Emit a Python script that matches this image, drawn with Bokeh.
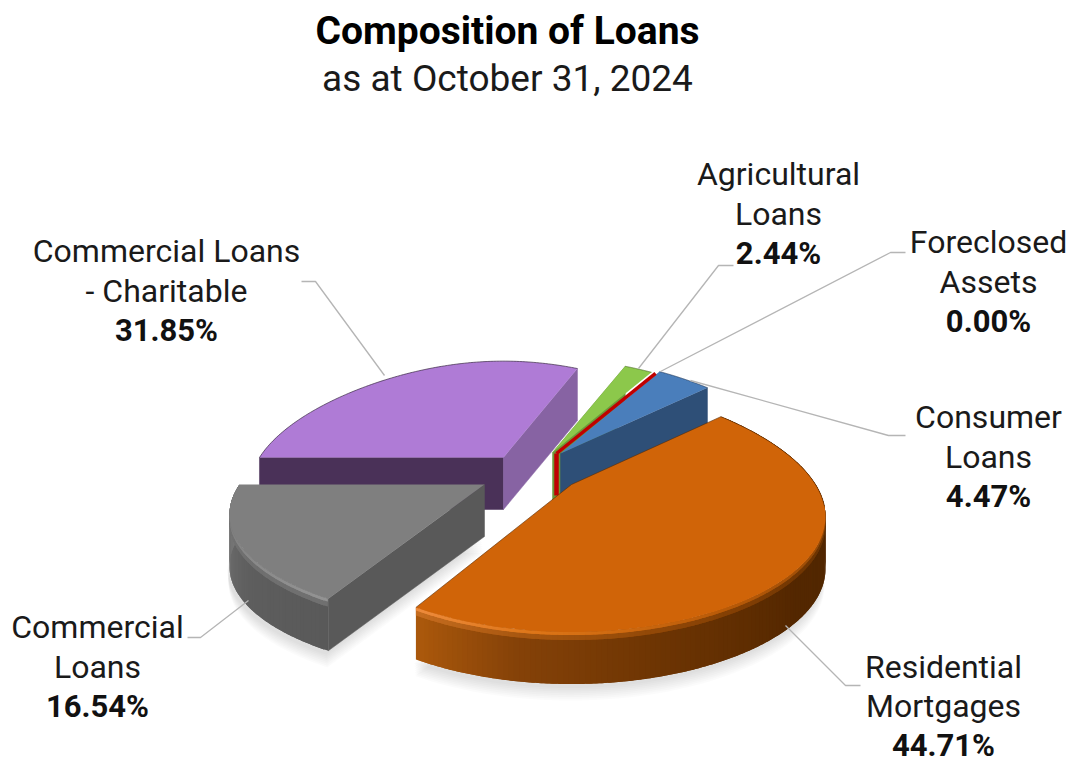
import numpy as np
from bokeh.core.properties import value
from bokeh.embed import file_html
from bokeh.models import Range1d
from bokeh.plotting import figure
from bokeh.resources import INLINE

# Portfolio shares, clockwise from the first slice angle
categories = ["Residential Mortgages", "Commercial Loans", "Commercial Loans - Charitable",
              "Agricultural Loans", "Foreclosed Assets", "Consumer Loans"]
shares = [44.71, 16.54, 31.85, 2.44, 0.00, 4.47]
share_labels = ["44.71%", "16.54%", "31.85%", "2.44%", "0.00%", "4.47%"]
name_lines = [["Residential", "Mortgages"], ["Commercial", "Loans"],
              ["Commercial Loans", "- Charitable"], ["Agricultural", "Loans"],
              ["Foreclosed", "Assets"], ["Consumer", "Loans"]]

# Exploded layout of each slice on the page
apex_x = [571, 484, 503, 552, 556, 560]
apex_y = [484, 484, 457, 452, 453, 453]
radius = [244, 245, 244, 240, 240, 240]
tilt = [1.0, 0.93, 0.98, 0.95, 0.95, 0.97]
top_colors = ["#D06408", "#7F7F7F", "#AF7BD6", "#8CC84B", "#C00000", "#4A7EBB"]

FIRST_ANGLE = 49.5
DEPTH = 52
B = 118
KX, KY = 0.30, 0.20


def project(phi, r, ax, ay, v=1.0):
    """Tilted-disc view: phi is clockwise from the far side, in degrees."""
    t = np.radians(phi)
    X, Y = np.sin(t), np.cos(t)
    return ax + r * X * (1 - KX * Y), ay - v * B * Y / (1 + KY * Y)


def blend(c1, c2, f):
    a = [int(c1[i:i + 2], 16) for i in (1, 3, 5)]
    b = [int(c2[i:i + 2], 16) for i in (1, 3, 5)]
    return "#%02x%02x%02x" % tuple(int(round(a[i] + (b[i] - a[i]) * f)) for i in range(3))


def ramp(phi, stops):
    xs = [s[0] for s in stops]
    f = float(np.interp(phi, xs, np.arange(len(xs))))
    i = min(int(f), len(xs) - 2)
    return blend(stops[i][1], stops[i + 1][1], f - i)


total = sum(shares)
edges = np.concatenate([[0], np.cumsum(shares)]) / total * 360 + FIRST_ANGLE
spans = {name: (edges[i], edges[i + 1], apex_x[i], apex_y[i], radius[i], top_colors[i], tilt[i])
         for i, name in enumerate(categories)}

p = figure(width=1070, height=764, x_range=Range1d(0, 1070), y_range=Range1d(764, 0),
           output_backend="svg", toolbar_location=None, min_border=0)
p.axis.visible = False
p.grid.visible = False
p.outline_line_color = None
p.background_fill_color = "white"


def rim_points(name, a, b, n=120):
    _, _, ax, ay, r, _, v = spans[name]
    return project(np.linspace(a, b, n), r, ax, ay, v)


def top_outline(name):
    s, e, ax, ay, *_ = spans[name]
    x, y = rim_points(name, s, e)
    return np.r_[ax, x], np.r_[ay, y]


def shadow(name, reach=DEPTH + 4):
    x, y = top_outline(name)
    for k in range(8):
        p.patch(x - 2 + k * 0.15, y + reach + k * 1.8, fill_color="#000000", fill_alpha=0.016, line_color=None)


def flat_wall(name, phi, color):
    _, _, ax, ay, r, _, v = spans[name]
    x, y = project(phi, r, ax, ay, v)
    p.patch([ax, x, x, ax], [ay, y, y + DEPTH, ay + DEPTH], fill_color=color, line_color=color, line_width=0.5)


def round_wall(name, stops, rim_stops):
    s, e, *_ = spans[name]
    phi = np.arange(s, e + 0.01, 1.0)
    # Each facet runs on under the next one so that no seams show between them
    for d0, d1, pick in [(0, DEPTH, lambda a: ramp(a, stops)),
                         (0, 8, lambda a: blend(ramp(a, rim_stops), ramp(a, stops), 0.6)),
                         (0, 3, lambda a: ramp(a, rim_stops))]:
        bx, by, cols = [], [], []
        for a in phi[:-1]:
            hi = min(a + 2.0, e)
            x, y = rim_points(name, a, hi, 5)
            bx.append(np.r_[x, x[::-1]])
            by.append(np.r_[y + d0, y[::-1] + d1])
            cols.append(pick(a + 0.5))
        p.patches(bx, by, fill_color=cols, line_color=None)


def top_face(name, edge, arc=None, radial_edge=False):
    x, y = top_outline(name)
    p.patch(x, y, fill_color=spans[name][5], line_color=None)
    s, e, *_ = spans[name]
    if arc is not None:
        ax_, ay_ = rim_points(name, arc[0] if arc[0] is not None else s, arc[1] if arc[1] is not None else e)
        p.line(ax_, ay_, line_color=edge, line_width=1, line_alpha=0.7)
    if radial_edge:
        p.line(np.r_[x[-1], x[0], x[1]], np.r_[y[-1], y[0], y[1]], line_color=edge, line_width=1, line_alpha=0.6)


# Far slices first, nearer ones painted over them
charitable = "Commercial Loans - Charitable"
flat_wall(charitable, spans[charitable][0], "#4A3158")
flat_wall(charitable, spans[charitable][1], "#8763A3")
top_face(charitable, "#3A2A44", arc=(None, None))

flat_wall("Agricultural Loans", spans["Agricultural Loans"][0], "#6C9A3A")
top_face("Agricultural Loans", "#4F6B2E", arc=(None, None))

flat_wall("Consumer Loans", spans["Consumer Loans"][1], "#2E4F77")
top_face("Consumer Loans", "#2A3F5C", arc=(None, None))

# The empty Foreclosed Assets slice shows only as a red seam
s0, e0, ax0, ay0, r0, c0, v0 = spans["Foreclosed Assets"]
sx, sy = project(s0, r0, ax0, ay0, v0)
p.line([ax0, sx], [ay0, sy], line_color=c0, line_width=3.5)
p.line([ax0, ax0], [ay0, ay0 + 42], line_color=c0, line_width=4.5)

shadow("Commercial Loans")
round_wall("Commercial Loans",
           [(205, "#585858"), (235, "#5E5E5E"), (270, "#7A7A7A")],
           [(205, "#969696"), (240, "#868686"), (270, "#6E6E6E")])
flat_wall("Commercial Loans", spans["Commercial Loans"][0], "#595959")
top_face("Commercial Loans", "#6E6E6E")

shadow("Residential Mortgages")
round_wall("Residential Mortgages",
           [(40, "#4E2500"), (130, "#532700"), (165, "#6E3503"), (190, "#854208"), (211, "#AE5A0C")],
           [(40, "#7A3D05"), (110, "#8E4708"), (150, "#B85A08"), (185, "#DC7416"), (211, "#EE8C3E")])
top_face("Residential Mortgages", "#5A2C04", arc=(None, 100), radial_edge=True)

# Leader lines
leader_xs = [[860, 845, 785], [187, 200, 248], [301, 315, 384], [733, 718, 638], [905, 890, 660], [905, 888, 690]]
leader_ys = [[685, 685, 625], [637, 637, 600], [281, 281, 375], [265, 265, 368], [252, 252, 371], [435, 435, 380]]
p.multi_line(leader_xs, leader_ys, line_color="#B5B5B5", line_width=1.3)

# Slice labels
label_x = [943, 97, 166, 778, 988, 988]
label_y = [666, 626, 250, 173, 241, 416]
label_step = [39.5, 40, 40, 40, 40, 40]
for i, lines in enumerate(name_lines):
    for j, t in enumerate(lines):
        p.text([label_x[i]], [label_y[i] + j * label_step[i]], text=[t], text_font=value("Roboto"),
               text_font_size="32px", text_color="#1A1A1A", text_align="center", text_baseline="middle")
    p.text([label_x[i]], [label_y[i] + len(lines) * label_step[i]], text=[share_labels[i]],
           text_font=value("Roboto"), text_font_size="31px", text_font_style="bold", text_color="#111111",
           text_align="center", text_baseline="middle")

p.text([507], [30], text=["Composition of Loans"], text_font=value("Roboto"), text_font_size="39px",
       text_font_style="bold", text_color="#000000", text_align="center", text_baseline="middle")
p.text([507], [78], text=["as at October 31, 2024"], text_font=value("Roboto"), text_font_size="37px",
       text_color="#1A1A1A", text_align="center", text_baseline="middle")

open("out.html", "w").write(file_html(p, INLINE))
